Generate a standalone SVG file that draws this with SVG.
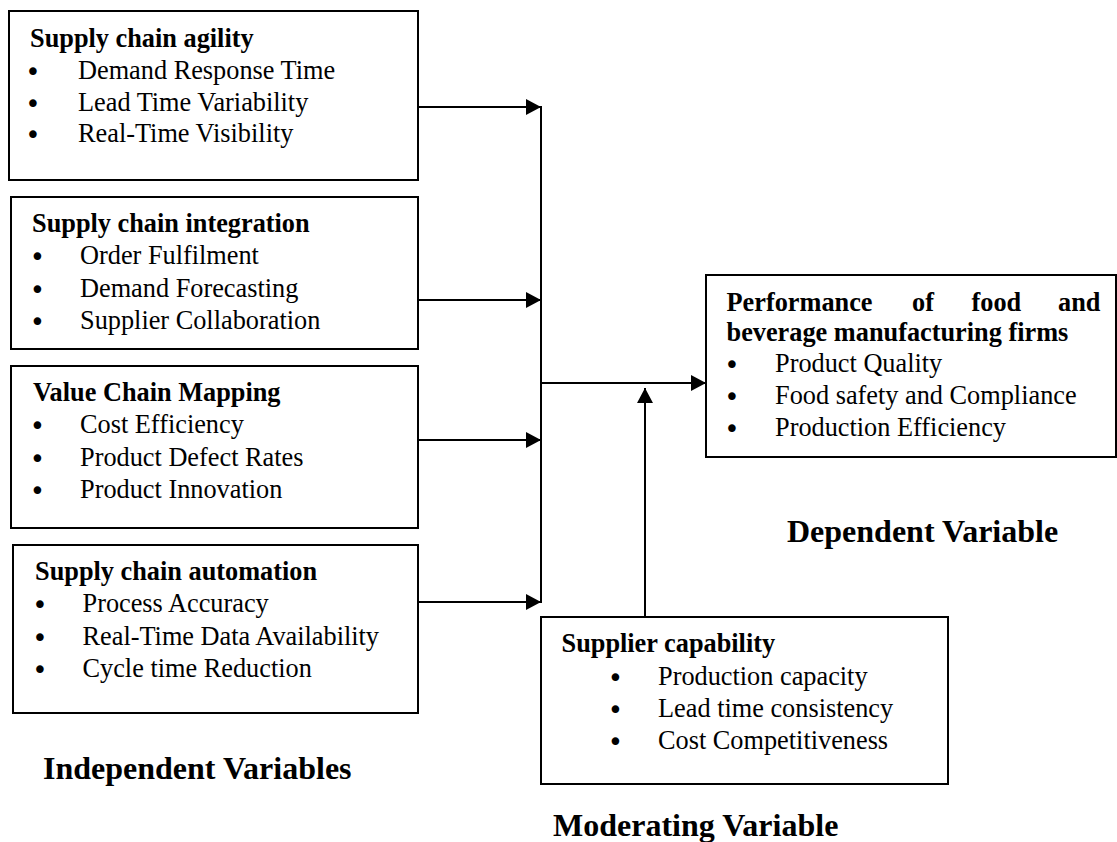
<svg xmlns="http://www.w3.org/2000/svg" width="1117" height="842" viewBox="0 0 1117 842">
  <style>
    .box { fill: #ffffff; stroke: #000000; stroke-width: 2; }
    .t { font-family: "Liberation Serif", "Times New Roman", serif; font-size: 26.3px; fill: #000000; }
    .b { font-weight: bold; }
    .bul { font-family: "DejaVu Sans", sans-serif; font-size: 26px; text-anchor: middle; fill: #000000; }
    .lbl { font-family: "Liberation Serif", "Times New Roman", serif; font-size: 32px; font-weight: bold; fill: #000000; }
    .conn { fill: none; stroke: #000000; stroke-width: 2; }
  </style>
  <defs>
    <marker id="arrow" markerUnits="userSpaceOnUse" markerWidth="16" markerHeight="16" refX="15" refY="8" orient="auto">
      <path d="M0,0 L15,8 L0,16 Z" fill="#000000"/>
    </marker>
  </defs>
  <rect width="1117" height="842" fill="#ffffff"/>

  <g id="node-agility">
    <rect class="box" x="9" y="11" width="409" height="169"/>
    <text class="t b" x="30" y="47">Supply chain agility</text>
    <text class="bul" x="33" y="79" dy="2">•</text>
    <text class="t" x="78" y="79">Demand Response Time</text>
    <text class="bul" x="33" y="111" dy="2">•</text>
    <text class="t" x="78" y="111">Lead Time Variability</text>
    <text class="bul" x="33" y="142" dy="2">•</text>
    <text class="t" x="78" y="142">Real-Time Visibility</text>
  </g>

  <g id="node-integration">
    <rect class="box" x="11" y="197" width="407" height="152"/>
    <text class="t b" x="32" y="232">Supply chain integration</text>
    <text class="bul" x="37.5" y="264" dy="2">•</text>
    <text class="t" x="80" y="264">Order Fulfilment</text>
    <text class="bul" x="37.5" y="296.5" dy="2">•</text>
    <text class="t" x="80" y="296.5">Demand Forecasting</text>
    <text class="bul" x="37.5" y="329" dy="2">•</text>
    <text class="t" x="80" y="329">Supplier Collaboration</text>
  </g>

  <g id="node-mapping">
    <rect class="box" x="11" y="366" width="407" height="162"/>
    <text class="t b" x="33" y="401">Value Chain Mapping</text>
    <text class="bul" x="37.5" y="433" dy="2">•</text>
    <text class="t" x="80" y="433">Cost Efficiency</text>
    <text class="bul" x="37.5" y="465.5" dy="2">•</text>
    <text class="t" x="80" y="465.5">Product Defect Rates</text>
    <text class="bul" x="37.5" y="498" dy="2">•</text>
    <text class="t" x="80" y="498">Product Innovation</text>
  </g>

  <g id="node-automation">
    <rect class="box" x="13" y="545" width="405" height="168"/>
    <text class="t b" x="35" y="580">Supply chain automation</text>
    <text class="bul" x="40" y="612" dy="2">•</text>
    <text class="t" x="82.5" y="612">Process Accuracy</text>
    <text class="bul" x="40" y="644.5" dy="2">•</text>
    <text class="t" x="82.5" y="644.5">Real-Time Data Availability</text>
    <text class="bul" x="40" y="677" dy="2">•</text>
    <text class="t" x="82.5" y="677">Cycle time Reduction</text>
  </g>

  <g id="node-performance">
    <rect class="box" x="706" y="275" width="410" height="182"/>
    <text class="t b" y="311"><tspan x="726.5">Performance</tspan><tspan x="912">of</tspan><tspan x="971.5">food</tspan><tspan x="1058">and</tspan></text>
    <text class="t b" x="726.5" y="341">beverage manufacturing firms</text>
    <text class="bul" x="732" y="372" dy="2">•</text>
    <text class="t" x="775" y="372">Product Quality</text>
    <text class="bul" x="732" y="404" dy="2">•</text>
    <text class="t" x="775" y="404">Food safety and Compliance</text>
    <text class="bul" x="732" y="436" dy="2">•</text>
    <text class="t" x="775" y="436">Production Efficiency</text>
  </g>

  <g id="node-supplier">
    <rect class="box" x="541" y="617" width="407" height="167"/>
    <text class="t b" x="561.5" y="652">Supplier capability</text>
    <text class="bul" x="615.5" y="684.5" dy="2">•</text>
    <text class="t" x="658" y="684.5">Production capacity</text>
    <text class="bul" x="615.5" y="716.5" dy="2">•</text>
    <text class="t" x="658" y="716.5">Lead time consistency</text>
    <text class="bul" x="615.5" y="748.5" dy="2">•</text>
    <text class="t" x="658" y="748.5">Cost Competitiveness</text>
  </g>

  <g id="labels">
    <text class="lbl" x="43" y="779">Independent Variables</text>
    <text class="lbl" x="787" y="542">Dependent Variable</text>
    <text class="lbl" x="553" y="836">Moderating Variable</text>
  </g>

  <g id="connectors">
    <line class="conn" x1="541" y1="106" x2="541" y2="603"/>
    <line class="conn" x1="418" y1="107" x2="541" y2="107" marker-end="url(#arrow)"/>
    <line class="conn" x1="418" y1="300" x2="541" y2="300" marker-end="url(#arrow)"/>
    <line class="conn" x1="418" y1="440" x2="541" y2="440" marker-end="url(#arrow)"/>
    <line class="conn" x1="418" y1="602" x2="541" y2="602" marker-end="url(#arrow)"/>
    <line class="conn" x1="541" y1="383" x2="706" y2="383" marker-end="url(#arrow)"/>
    <line class="conn" x1="645" y1="617" x2="645" y2="388" marker-end="url(#arrow)"/>
  </g>
</svg>
